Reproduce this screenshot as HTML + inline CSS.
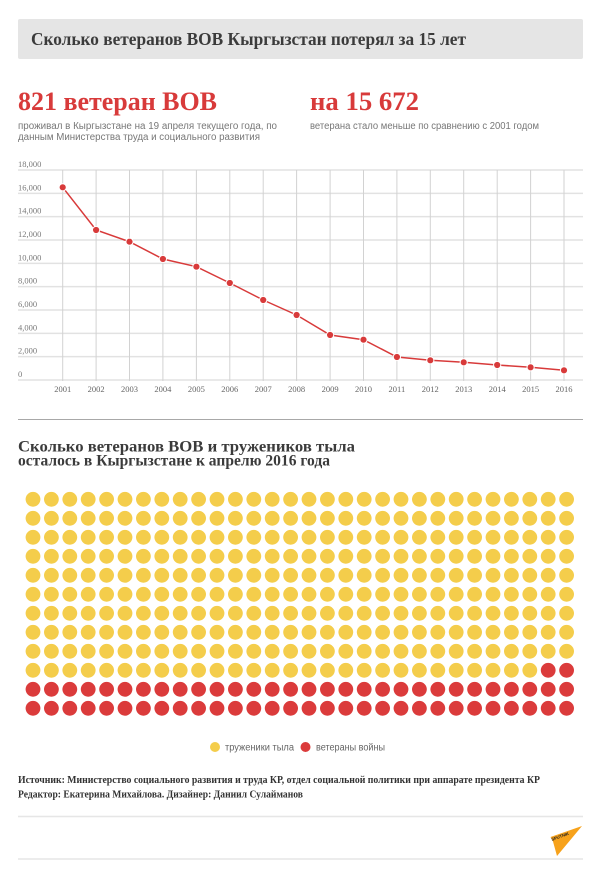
<!DOCTYPE html>
<html>
<head>
<meta charset="utf-8">
<style>
html,body{margin:0;padding:0;background:#fff;}
body{width:600px;height:878px;overflow:hidden;}
svg{display:block;}
.serif{font-family:"Liberation Serif","Noto Serif CJK SC",serif;}
.sans{font-family:"Liberation Sans","Noto Sans CJK SC",sans-serif;}
</style>
</head>
<body>
<svg width="600" height="878" viewBox="0 0 600 878" xmlns="http://www.w3.org/2000/svg">
  <!-- Title box -->
  <rect x="18" y="19" width="565" height="40" rx="2" fill="#e5e5e5"/>
  <text class="serif" x="31" y="45" font-size="18" font-weight="bold" fill="#3b3b3b" textLength="435" lengthAdjust="spacingAndGlyphs">Сколько ветеранов ВОВ Кыргызстан потерял за 15 лет</text>

  <!-- Big numbers -->
  <text class="serif" x="18" y="110" font-size="26" font-weight="bold" fill="#d83a3a" textLength="199" lengthAdjust="spacingAndGlyphs">821 ветеран ВОВ</text>
  <text class="sans" x="18" y="129" font-size="10" fill="#777" textLength="259" lengthAdjust="spacingAndGlyphs">проживал в Кыргызстане на 19 апреля текущего года, по</text>
  <text class="sans" x="18" y="140" font-size="10" fill="#777" textLength="242" lengthAdjust="spacingAndGlyphs">данным Министерства труда и социального развития</text>

  <text class="serif" x="310" y="110" font-size="26" font-weight="bold" fill="#d83a3a" textLength="109" lengthAdjust="spacingAndGlyphs">на 15 672</text>
  <text class="sans" x="310" y="129" font-size="10" fill="#777" textLength="229" lengthAdjust="spacingAndGlyphs">ветерана стало меньше по сравнению с 2001 годом</text>

  <!-- Chart grid horizontal -->
  <g stroke="#e2e2e2" stroke-width="1.5">
    <line x1="18" y1="170" x2="583" y2="170"/>
    <line x1="18" y1="193.33" x2="583" y2="193.33"/>
    <line x1="18" y1="216.67" x2="583" y2="216.67"/>
    <line x1="18" y1="240" x2="583" y2="240"/>
    <line x1="18" y1="263.33" x2="583" y2="263.33"/>
    <line x1="18" y1="286.67" x2="583" y2="286.67"/>
    <line x1="18" y1="310" x2="583" y2="310"/>
    <line x1="18" y1="333.33" x2="583" y2="333.33"/>
    <line x1="18" y1="356.67" x2="583" y2="356.67"/>
    <line x1="18" y1="380" x2="583" y2="380"/>
  </g>
  <!-- vertical -->
  <g stroke="#d2d2d2" stroke-width="1">
    <line x1="62.7" y1="170" x2="62.7" y2="381"/>
    <line x1="96.1" y1="170" x2="96.1" y2="381"/>
    <line x1="129.5" y1="170" x2="129.5" y2="381"/>
    <line x1="162.9" y1="170" x2="162.9" y2="381"/>
    <line x1="196.4" y1="170" x2="196.4" y2="381"/>
    <line x1="229.8" y1="170" x2="229.8" y2="381"/>
    <line x1="263.2" y1="170" x2="263.2" y2="381"/>
    <line x1="296.6" y1="170" x2="296.6" y2="381"/>
    <line x1="330.1" y1="170" x2="330.1" y2="381"/>
    <line x1="363.5" y1="170" x2="363.5" y2="381"/>
    <line x1="396.9" y1="170" x2="396.9" y2="381"/>
    <line x1="430.3" y1="170" x2="430.3" y2="381"/>
    <line x1="463.7" y1="170" x2="463.7" y2="381"/>
    <line x1="497.2" y1="170" x2="497.2" y2="381"/>
    <line x1="530.6" y1="170" x2="530.6" y2="381"/>
    <line x1="564" y1="170" x2="564" y2="381"/>
  </g>
  <!-- y labels -->
  <g class="serif" font-size="8.5" fill="#7a7a7a">
    <text x="18" y="167">18,000</text>
    <text x="18" y="190.3">16,000</text>
    <text x="18" y="213.7">14,000</text>
    <text x="18" y="237">12,000</text>
    <text x="18" y="260.3">10,000</text>
    <text x="18" y="283.7">8,000</text>
    <text x="18" y="307">6,000</text>
    <text x="18" y="330.3">4,000</text>
    <text x="18" y="353.7">2,000</text>
    <text x="18" y="377">0</text>
  </g>
  <!-- x labels -->
  <g class="serif" font-size="8.5" fill="#666" text-anchor="middle">
    <text x="62.7" y="392">2001</text>
    <text x="96.1" y="392">2002</text>
    <text x="129.5" y="392">2003</text>
    <text x="162.9" y="392">2004</text>
    <text x="196.4" y="392">2005</text>
    <text x="229.8" y="392">2006</text>
    <text x="263.2" y="392">2007</text>
    <text x="296.6" y="392">2008</text>
    <text x="330.1" y="392">2009</text>
    <text x="363.5" y="392">2010</text>
    <text x="396.9" y="392">2011</text>
    <text x="430.3" y="392">2012</text>
    <text x="463.7" y="392">2013</text>
    <text x="497.2" y="392">2014</text>
    <text x="530.6" y="392">2015</text>
    <text x="564" y="392">2016</text>
  </g>
  <!-- data line -->
  <polyline fill="none" stroke="#d83a3a" stroke-width="1.5" points="62.7,187.3 96.1,230 129.5,241.7 162.9,259 196.4,266.7 229.8,283 263.2,300 296.6,315 330.1,335 363.5,339.7 396.9,357 430.3,360.3 463.7,362.3 497.2,365 530.6,367.3 564,370.3"/>
  <g fill="#d83a3a" stroke="#fff" stroke-width="1">
    <circle cx="62.7" cy="187.3" r="3.6"/>
    <circle cx="96.1" cy="230" r="3.6"/>
    <circle cx="129.5" cy="241.7" r="3.6"/>
    <circle cx="162.9" cy="259" r="3.6"/>
    <circle cx="196.4" cy="266.7" r="3.6"/>
    <circle cx="229.8" cy="283" r="3.6"/>
    <circle cx="263.2" cy="300" r="3.6"/>
    <circle cx="296.6" cy="315" r="3.6"/>
    <circle cx="330.1" cy="335" r="3.6"/>
    <circle cx="363.5" cy="339.7" r="3.6"/>
    <circle cx="396.9" cy="357" r="3.6"/>
    <circle cx="430.3" cy="360.3" r="3.6"/>
    <circle cx="463.7" cy="362.3" r="3.6"/>
    <circle cx="497.2" cy="365" r="3.6"/>
    <circle cx="530.6" cy="367.3" r="3.6"/>
    <circle cx="564" cy="370.3" r="3.6"/>
  </g>

  <!-- separator -->
  <line x1="18" y1="419.5" x2="583" y2="419.5" stroke="#a8a8a8" stroke-width="1"/>

  <!-- Heading 2 -->
  <text class="serif" x="18" y="451.5" font-size="16" font-weight="bold" fill="#3b3b3b" textLength="337" lengthAdjust="spacingAndGlyphs">Сколько ветеранов ВОВ и тружеников тыла</text>
  <text class="serif" x="18" y="465.5" font-size="16" font-weight="bold" fill="#3b3b3b" textLength="312" lengthAdjust="spacingAndGlyphs">осталось в Кыргызстане к апрелю 2016 года</text>

  <!-- Waffle -->
  <defs>
    <g id="yrow">
      <circle cx="33" cy="0" r="7.4"/><circle cx="51.4" cy="0" r="7.4"/><circle cx="69.8" cy="0" r="7.4"/><circle cx="88.2" cy="0" r="7.4"/><circle cx="106.6" cy="0" r="7.4"/>
      <circle cx="125" cy="0" r="7.4"/><circle cx="143.4" cy="0" r="7.4"/><circle cx="161.8" cy="0" r="7.4"/><circle cx="180.2" cy="0" r="7.4"/><circle cx="198.6" cy="0" r="7.4"/>
      <circle cx="217" cy="0" r="7.4"/><circle cx="235.4" cy="0" r="7.4"/><circle cx="253.8" cy="0" r="7.4"/><circle cx="272.2" cy="0" r="7.4"/><circle cx="290.6" cy="0" r="7.4"/>
      <circle cx="309" cy="0" r="7.4"/><circle cx="327.4" cy="0" r="7.4"/><circle cx="345.8" cy="0" r="7.4"/><circle cx="364.2" cy="0" r="7.4"/><circle cx="382.6" cy="0" r="7.4"/>
      <circle cx="401" cy="0" r="7.4"/><circle cx="419.4" cy="0" r="7.4"/><circle cx="437.8" cy="0" r="7.4"/><circle cx="456.2" cy="0" r="7.4"/><circle cx="474.6" cy="0" r="7.4"/>
      <circle cx="493" cy="0" r="7.4"/><circle cx="511.4" cy="0" r="7.4"/><circle cx="529.8" cy="0" r="7.4"/>
    </g>
    <g id="tail">
      <circle cx="548.2" cy="0" r="7.4"/><circle cx="566.6" cy="0" r="7.4"/>
    </g>
  </defs>
  <g fill="#f4cd4b">
    <use href="#yrow" y="499.3"/><use href="#tail" y="499.3"/>
    <use href="#yrow" y="518.3"/><use href="#tail" y="518.3"/>
    <use href="#yrow" y="537.3"/><use href="#tail" y="537.3"/>
    <use href="#yrow" y="556.3"/><use href="#tail" y="556.3"/>
    <use href="#yrow" y="575.3"/><use href="#tail" y="575.3"/>
    <use href="#yrow" y="594.3"/><use href="#tail" y="594.3"/>
    <use href="#yrow" y="613.3"/><use href="#tail" y="613.3"/>
    <use href="#yrow" y="632.3"/><use href="#tail" y="632.3"/>
    <use href="#yrow" y="651.3"/><use href="#tail" y="651.3"/>
    <use href="#yrow" y="670.3"/>
  </g>
  <g fill="#db3b3b">
    <use href="#tail" y="670.3"/>
    <use href="#yrow" y="689.3"/><use href="#tail" y="689.3"/>
    <use href="#yrow" y="708.3"/><use href="#tail" y="708.3"/>
  </g>

  <!-- Legend -->
  <circle cx="215" cy="747" r="5" fill="#f4cd4b"/>
  <text class="sans" x="225" y="750.5" font-size="10" fill="#666" textLength="69" lengthAdjust="spacingAndGlyphs">труженики тыла</text>
  <circle cx="305.5" cy="747" r="5" fill="#db3b3b"/>
  <text class="sans" x="316" y="750.5" font-size="10" fill="#666" textLength="69" lengthAdjust="spacingAndGlyphs">ветераны войны</text>

  <!-- Footer -->
  <text class="serif" x="18" y="783" font-size="10.5" font-weight="bold" fill="#333" textLength="522" lengthAdjust="spacingAndGlyphs">Источник: Министерство социального развития и труда КР, отдел социальной политики при аппарате президента КР</text>
  <text class="serif" x="18" y="797.5" font-size="10.5" font-weight="bold" fill="#333" textLength="285" lengthAdjust="spacingAndGlyphs">Редактор: Екатерина Михайлова. Дизайнер: Даниил Сулайманов</text>

  <line x1="18" y1="816.5" x2="583" y2="816.5" stroke="#e6e6e6" stroke-width="1.5"/>
  <line x1="18" y1="859" x2="583" y2="859" stroke="#e6e6e6" stroke-width="1.5"/>

  <!-- Sputnik logo -->
  <polygon points="582,826 550.5,837 553,841.5 557,856" fill="#f7a21b"/>
  <text class="sans" x="552" y="841" font-size="4.2" font-weight="bold" fill="#222" transform="rotate(-20 552 841)">SPUTNIK</text>
</svg>
</body>
</html>
